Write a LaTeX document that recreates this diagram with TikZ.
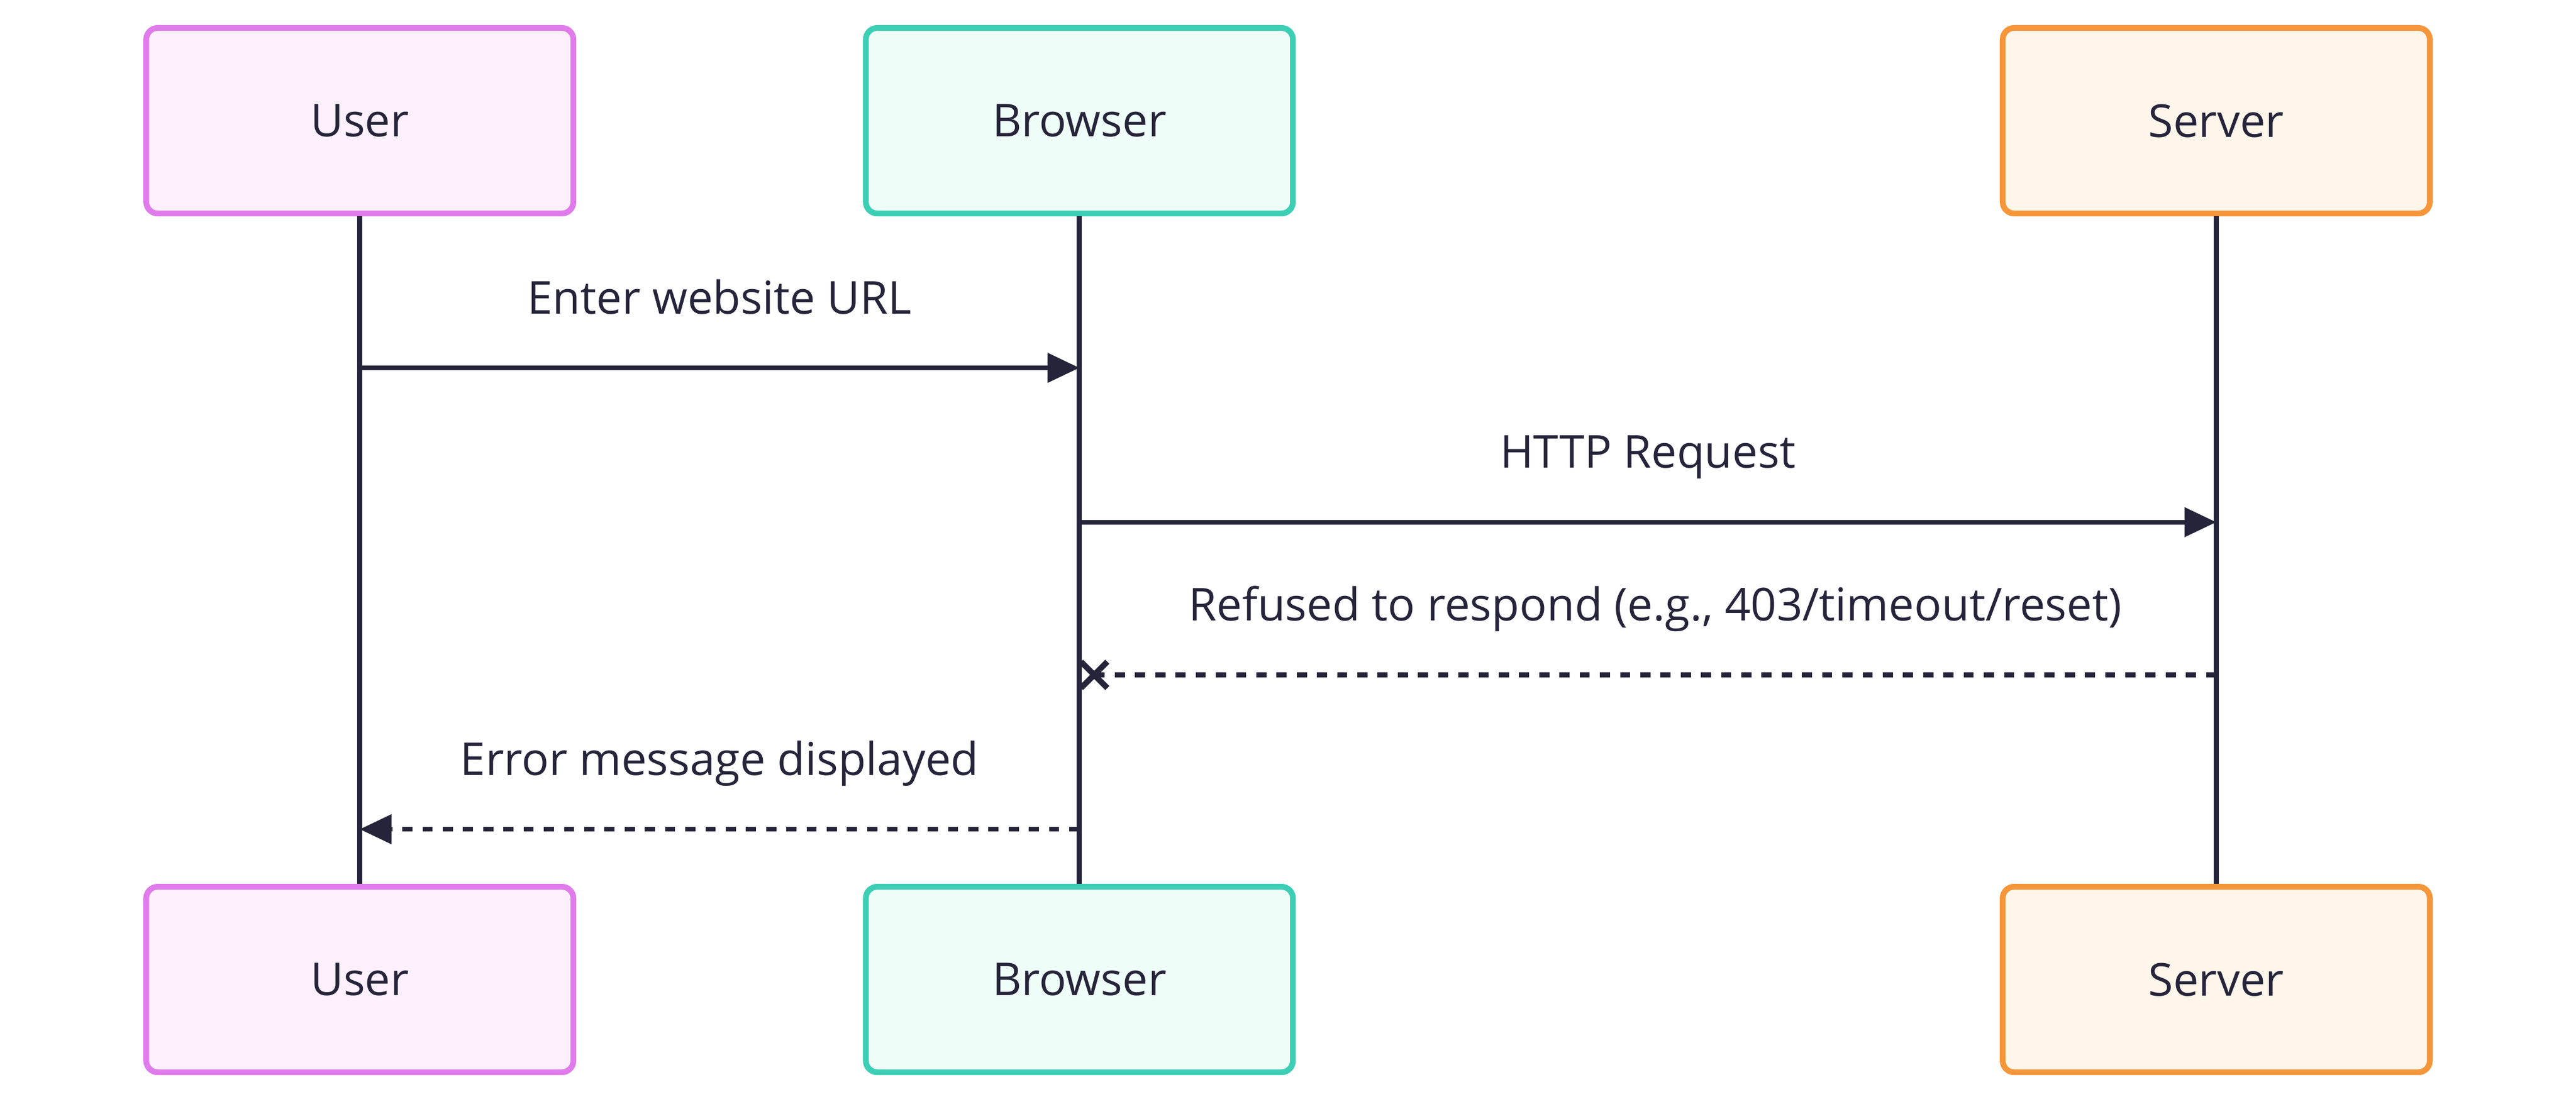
\documentclass[tikz,border=0pt]{standalone}
\usepackage{fontspec}
\setmainfont{Open Sans}
\usetikzlibrary{arrows.meta,calc}
\definecolor{ink}{HTML}{26243A}
\definecolor{userfill}{HTML}{FDF0FD}
\definecolor{userdraw}{HTML}{E07BEB}
\definecolor{brwfill}{HTML}{EEFDF8}
\definecolor{brwdraw}{HTML}{3CCFB5}
\definecolor{srvfill}{HTML}{FEF6EA}
\definecolor{srvdraw}{HTML}{F5963A}
\begin{document}
\begin{tikzpicture}[line width=1.6pt, font=\fontsize{15.7}{19}\selectfont,
  actor/.style = {draw, rounded corners=4pt, minimum width=5.2cm, minimum height=2.26cm, line width=2pt, text=ink},
  life/.style = {draw=ink, line width=1.8pt},
  msg/.style = {draw=ink, -{Triangle[length=11pt,width=10pt]}},
  reply/.style = {msg, dash pattern=on 3.5pt off 3.5pt},
  lbl/.style = {text=ink, anchor=base, yshift=0.66cm}]
	\useasboundingbox (0,0) rectangle (31.36,-13.44);
	%Actors on top
	\node[actor, draw=userdraw, fill=userfill] (user) at (4.38,-1.47) {User};
	\node[actor, draw=brwdraw, fill=brwfill] (browser) at (13.14,-1.47) {Browser};
	\node[actor, draw=srvdraw, fill=srvfill] (server) at (26.98,-1.47) {Server};
	%Actors at bottom
	\node[actor, draw=userdraw, fill=userfill] (user2) at (4.38,-11.93) {User};
	\node[actor, draw=brwdraw, fill=brwfill] (browser2) at (13.14,-11.93) {Browser};
	\node[actor, draw=srvdraw, fill=srvfill] (server2) at (26.98,-11.93) {Server};
	%Lifelines
	\draw[life] (user) -- (user2);
	\draw[life] (browser) -- (browser2);
	\draw[life] (server) -- (server2);
	%Message end points
	\coordinate (u1) at (4.38,-4.48);   \coordinate (b1) at (13.14,-4.48);
	\coordinate (b2) at (13.14,-6.36);  \coordinate (s2) at (26.98,-6.36);
	\coordinate (s3) at (26.98,-8.22);  \coordinate (b3) at (13.32,-8.22);
	\coordinate (b4) at (13.14,-10.1);  \coordinate (u4) at (4.38,-10.1);
	%Messages
	\draw[msg] (u1) -- node[lbl] {Enter website URL} (b1);
	\draw[msg] (b2) -- node[lbl] {HTTP Request} (s2);
	\draw[draw=ink, dash pattern=on 3.5pt off 3.5pt] (s3) -- node[lbl] {Refused to respond (e.g., 403/timeout/reset)} (b3);
	\draw[draw=ink, line width=2pt] ($(b3)+(-0.16,0.16)$) -- ($(b3)+(0.16,-0.16)$)
		($(b3)+(-0.16,-0.16)$) -- ($(b3)+(0.16,0.16)$);
	\draw[reply] (b4) -- node[lbl] {Error message displayed} (u4);
\end{tikzpicture}
\end{document}
